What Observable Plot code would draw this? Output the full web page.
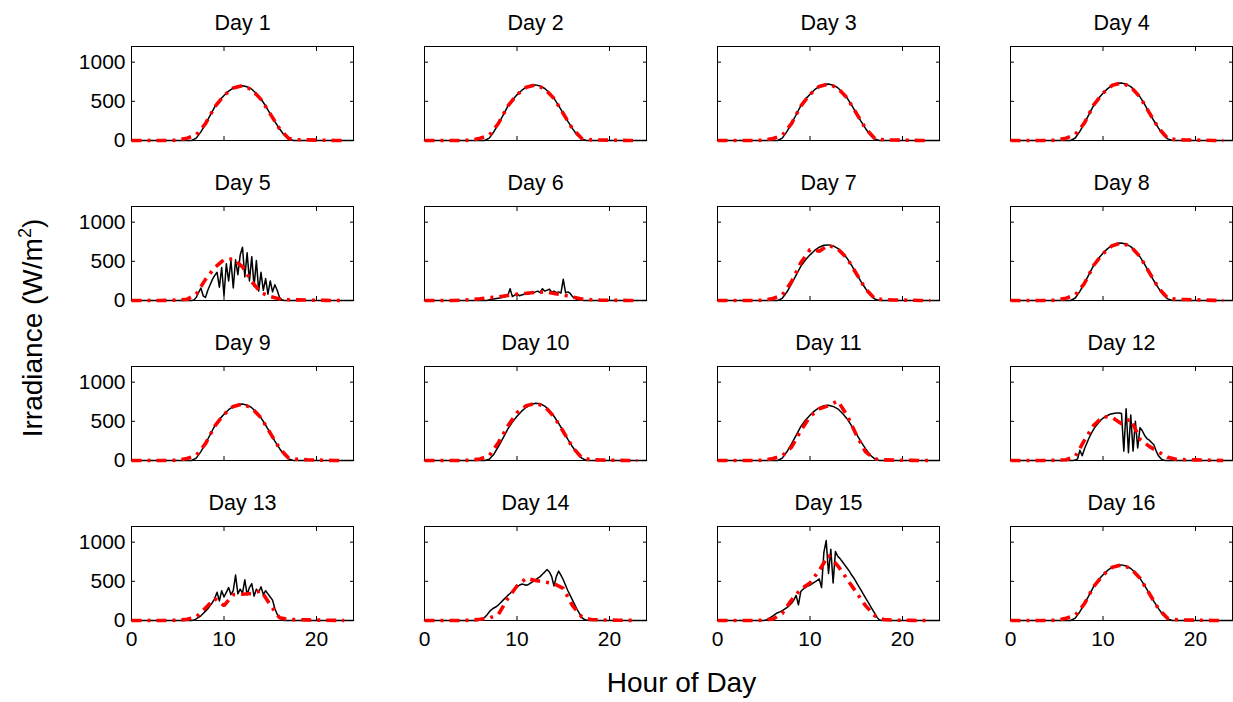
<!DOCTYPE html>
<html><head><meta charset="utf-8">
<script src="https://cdn.jsdelivr.net/npm/d3@7"></script>
<script src="https://cdn.jsdelivr.net/npm/@observablehq/plot@0.6"></script>
<style>
html,body{margin:0;padding:0;background:#fff;overflow:hidden;}
#chart{position:relative;width:1233px;height:702px;overflow:hidden;font-family:"Liberation Sans",Arial,Helvetica,sans-serif;}
</style></head><body><div id="chart"></div>
<script>
// ---- labels and ticks ----
const dayLabels = ["Day 1","Day 2","Day 3","Day 4","Day 5","Day 6","Day 7","Day 8",
                   "Day 9","Day 10","Day 11","Day 12","Day 13","Day 14","Day 15","Day 16"];
const xTicks = [0, 10, 20];
const yTicks = [0, 500, 1000];
const xLabel = "Hour of Day";
const yLabel = "Irradiance (W/m";
const yLabelSup = "2";
// forecast is hourly, 0..23 h
const forecastHours = [0,1,2,3,4,5,6,7,8,9,10,11,12,13,14,15,16,17,18,19,20,21,22,23];

// ---- measured irradiance (clear days: every 0.5 h, 0..24 h) ----
const meas01 = [0,0,0,0,0,0,0,0,0,0,0,0,0, 0,30,110,210,320,430,510,575,630,670,695,700,685,655,600,530,440,340,240,150,70,20,0, 0,0,0,0,0,0,0,0,0,0,0,0,0];
const meas02 = [0,0,0,0,0,0,0,0,0,0,0,0,0, 0,30,112,213,325,436,517,583,639,680,705,710,695,664,609,538,446,345,243,152,71,20,0, 0,0,0,0,0,0,0,0,0,0,0,0,0];
const meas03 = [0,0,0,0,0,0,0,0,0,0,0,0,0, 0,31,113,216,329,442,525,591,648,689,715,720,705,674,617,545,453,350,247,154,72,21,0, 0,0,0,0,0,0,0,0,0,0,0,0,0];
const meas04 = [0,0,0,0,0,0,0,0,0,0,0,0,0, 0,32,116,221,336,452,536,604,662,704,730,735,719,688,630,557,462,357,252,158,74,21,0, 0,0,0,0,0,0,0,0,0,0,0,0,0];
const meas07 = [0,0,0,0,0,0,0,0,0,0,0,0,0, 0,28,108,212,325,436,517,583,639,680,705,710,697,666,611,540,448,347,245,153,72,20,0, 0,0,0,0,0,0,0,0,0,0,0,0,0];
const meas08 = [0,0,0,0,0,0,0,0,0,0,0,0,0, 0,32,116,221,336,452,536,604,662,704,730,735,719,688,630,557,462,357,252,158,74,21,0, 0,0,0,0,0,0,0,0,0,0,0,0,0];
const meas09 = [0,0,0,0,0,0,0,0,0,0,0,0,0, 0,31,113,216,329,442,525,591,648,689,715,720,705,674,617,545,453,350,247,154,72,21,0, 0,0,0,0,0,0,0,0,0,0,0,0,0];
const meas10 = [0,0,0,0,0,0,0,0,0,0,0,0,0, 0,15,80,180,290,400,490,565,630,680,715,730,725,695,640,565,475,375,270,175,90,30,0, 0,0,0,0,0,0,0,0,0,0,0,0,0];
const meas11 = [0,0,0,0,0,0,0,0,0,0,0,0,0, 0,30,111,211,322,433,514,579,634,675,700,705,690,660,604,534,443,342,242,151,70,20,0, 0,0,0,0,0,0,0,0,0,0,0,0,0];
const meas16 = [0,0,0,0,0,0,0,0,0,0,0,0,0, 0,30,112,213,325,436,517,583,639,680,705,710,695,664,609,538,446,345,243,152,71,20,0, 0,0,0,0,0,0,0,0,0,0,0,0,0];

// ---- measured irradiance (cloudy days: every 0.25 h, 0..24 h) ----
const meas05 = [0,0,0,0,0,0,0,0,0,0,0,0,0,0,0,0,0,0,0,0,0,0,0,0,0,0,0,
  5,40,100,160,60,40,130,200,270,320,360,170,420,60,470,250,510,160,520,330,580,680,300,610,250,560,180,510,120,360,130,280,80,250,110,200,130,40,10,
  0,0,0,0,0,0,0,0,0,0,0,0,0,0,0,0,0,0,0,0,0,0,0,0,0,0,0,0,0,0,0];
const meas06 = [0,0,0,0,0,0,0,0,0,0,0,0,0,0,0,0,0,0,0,0,0,0,0,0,0,0,0,0,
  10,15,20,25,30,35,40,50,60,150,50,70,90,60,70,80,85,80,100,95,110,120,100,150,120,130,145,110,120,100,110,95,270,100,110,90,50,30,15,8,3,
  0,0,0,0,0,0,0,0,0,0,0,0,0,0,0,0,0,0,0,0,0,0,0,0,0,0,0,0];
const meas12 = [0,0,0,0,0,0,0,0,0,0,0,0,0,0,0,0,0,0,0,0,0,0,0,0,0,0,0,0,
  5,20,130,60,150,220,290,350,400,445,480,515,540,560,575,590,598,604,606,605,600,120,660,100,580,120,500,160,420,380,320,280,260,230,200,120,60,25,5,
  0,0,0,0,0,0,0,0,0,0,0,0,0,0,0,0,0,0,0,0,0,0,0,0,0,0,0,0,0,0];
const meas13 = [0,0,0,0,0,0,0,0,0,0,0,0,0,0,0,0,0,0,0,0,0,0,0,0,0,0,0,
  5,20,40,60,90,120,150,190,230,280,360,250,380,300,360,420,330,380,580,340,400,350,520,330,420,470,310,400,360,430,330,380,340,300,260,150,80,40,15,
  0,0,0,0,0,0,0,0,0,0,0,0,0,0,0,0,0,0,0,0,0,0,0,0,0,0,0,0,0,0,0];
const meas14 = [0,0,0,0,0,0,0,0,0,0,0,0,0,0,0,0,0,0,0,0,0,0,0,0,
  10,20,40,70,110,140,160,175,200,230,260,290,320,345,375,410,430,450,465,460,450,460,480,500,520,540,560,590,620,650,620,560,440,560,630,580,520,450,380,320,260,200,140,90,40,15,5,
  0,0,0,0,0,0,0,0,0,0,0,0,0,0,0,0,0,0,0,0,0,0,0,0,0,0];
const meas15 = [0,0,0,0,0,0,0,0,0,0,0,0,0,0,0,0,0,0,0,0,
  0,5,20,40,60,80,100,110,125,145,165,190,220,260,320,200,370,400,420,440,450,470,490,510,530,420,870,1020,600,910,480,880,820,790,750,710,670,630,580,540,490,440,390,340,290,240,190,140,90,40,5,0,
  0,0,0,0,0,0,0,0,0,0,0,0,0,0,0,0,0,0,0,0,0,0,0,0,0];

// ---- forecast irradiance (hourly, 0..23 h) ----
const fc01 = [0,0,0,0,0,5,30,70,215,430,575,670,700,650,525,340,150,25,10,8,5,3,0,0];
const fc02 = [0,0,0,0,0,5,28,65,220,440,585,680,710,660,535,345,150,25,8,6,4,2,0,0];
const fc03 = [0,0,0,0,0,4,25,65,215,440,590,690,720,670,545,350,155,25,8,6,4,2,0,0];
const fc04 = [0,0,0,0,0,5,30,75,225,455,605,705,735,685,555,355,160,25,10,7,5,3,0,0];
const fc05 = [0,0,0,0,2,5,15,80,270,420,520,530,430,240,100,50,20,10,8,5,3,2,0,0];
const fc06 = [0,0,0,0,3,12,22,35,45,65,80,92,105,110,90,70,45,20,10,5,3,2,0,0];
const fc07 = [0,0,0,0,0,5,25,70,240,480,650,630,705,660,540,345,150,25,10,7,5,3,0,0];
const fc08 = [0,0,0,0,0,5,30,70,220,450,600,700,735,690,560,360,160,30,15,12,8,5,2,0];
const fc09 = [0,0,0,0,0,5,25,65,215,440,590,690,720,670,545,350,155,30,15,10,6,3,0,0];
const fc10 = [0,0,0,0,0,5,20,60,230,440,610,700,730,690,560,370,170,35,10,6,4,2,0,0];
const fc11 = [0,0,0,0,0,5,25,60,170,380,560,660,700,760,580,330,110,20,8,5,3,2,0,0];
const fc12 = [0,0,0,0,0,3,10,50,260,450,560,550,470,530,270,180,110,40,12,10,8,5,3,0];
const fc13 = [0,0,0,0,0,3,15,45,160,280,190,330,335,345,380,200,35,12,10,8,5,3,2,0];
const fc14 = [0,0,0,0,0,3,15,30,80,280,440,540,510,490,470,410,190,45,12,8,5,3,2,0];
const fc15 = [0,0,0,0,0,5,20,90,260,400,480,640,830,700,530,360,190,60,12,5,3,2,0,0];
const fc16 = [0,0,0,0,0,5,28,65,215,435,580,680,710,665,540,345,150,25,10,6,4,2,0,0];

const measured = [meas01,meas02,meas03,meas04,meas05,meas06,meas07,meas08,meas09,meas10,meas11,meas12,meas13,meas14,meas15,meas16];
const forecast = [fc01,fc02,fc03,fc04,fc05,fc06,fc07,fc08,fc09,fc10,fc11,fc12,fc13,fc14,fc15,fc16];

// ---- drawing ----
const FONT = '"Liberation Sans", Arial, Helvetica, sans-serif';
const chart = document.getElementById("chart");
const fmt = d => String(d);
const blank = () => "";

for (let k = 0; k < 16; k++) {
  const r = Math.floor(k / 4), c = k % 4;
  const m = measured[k], f = forecast[k];
  const mData = m.map((v, i) => ({hour: i * 24 / (m.length - 1), value: v}));
  const fData = f.map((v, i) => ({hour: forecastHours[i], value: v}));
  const isLeft = c === 0, isBottom = r === 3;
  const svg = Plot.plot({
    width: 293, height: 174,
    marginLeft: 70, marginRight: 1, marginTop: 40, marginBottom: 40,
    style: {position: "absolute", left: (61 + 293 * c) + "px", top: (6 + 160 * r) + "px",
            background: "transparent", overflow: "visible", maxWidth: "none",
            fontFamily: FONT, color: "black"},
    x: {domain: [0, 24]},
    y: {domain: [0, 1200]},
    marks: [
      Plot.frame({stroke: "black", strokeWidth: 1}),
      Plot.axisX(xTicks, {anchor: "bottom", tickSize: -4, tickPadding: 15, fontSize: 21, fontFamily: FONT,
                          tickFormat: isBottom ? fmt : blank, label: null}),
      Plot.axisX(xTicks, {anchor: "top", tickSize: -4, tickFormat: blank, label: null}),
      Plot.axisY(yTicks, {anchor: "left", tickSize: -4, tickPadding: 10, fontSize: 21, fontFamily: FONT,
                          tickFormat: isLeft ? fmt : blank, label: null}),
      Plot.axisY(yTicks, {anchor: "right", tickSize: -4, tickFormat: blank, label: null}),
      Plot.line(mData, {x: "hour", y: "value", stroke: "black", strokeWidth: 1.5}),
      Plot.line(fData, {x: "hour", y: "value", stroke: "#ff0000", strokeWidth: 3.6,
                        strokeDasharray: "10,6,3,6", strokeLinecap: "butt", strokeLinejoin: "miter"}),
      Plot.text([dayLabels[k]], {text: d => d, frameAnchor: "top", lineAnchor: "bottom", dy: -17,
                                 fontSize: 21.5, fontFamily: FONT, fill: "black"})
    ]
  });
  chart.appendChild(svg);
}

// axis titles overlay
const ns = "http://www.w3.org/2000/svg";
const ov = document.createElementNS(ns, "svg");
ov.setAttribute("width", 1233); ov.setAttribute("height", 702);
ov.style.position = "absolute"; ov.style.left = "0px"; ov.style.top = "0px"; ov.style.pointerEvents = "none";
const tx = document.createElementNS(ns, "text");
tx.setAttribute("x", 681.5); tx.setAttribute("y", 692); tx.setAttribute("text-anchor", "middle");
tx.setAttribute("font-size", 28); tx.setAttribute("font-family", FONT); tx.textContent = xLabel;
ov.appendChild(tx);
const ty = document.createElementNS(ns, "text");
ty.setAttribute("transform", "translate(42,328) rotate(-90)"); ty.setAttribute("text-anchor", "middle");
ty.setAttribute("font-size", 28); ty.setAttribute("font-family", FONT);
ty.appendChild(document.createTextNode(yLabel));
const sup = document.createElementNS(ns, "tspan");
sup.setAttribute("dy", -11); sup.setAttribute("font-size", 18); sup.textContent = yLabelSup;
ty.appendChild(sup);
const close = document.createElementNS(ns, "tspan");
close.setAttribute("dy", 11); close.textContent = ")";
ty.appendChild(close);
ov.appendChild(ty);
chart.appendChild(ov);
</script></body></html>
